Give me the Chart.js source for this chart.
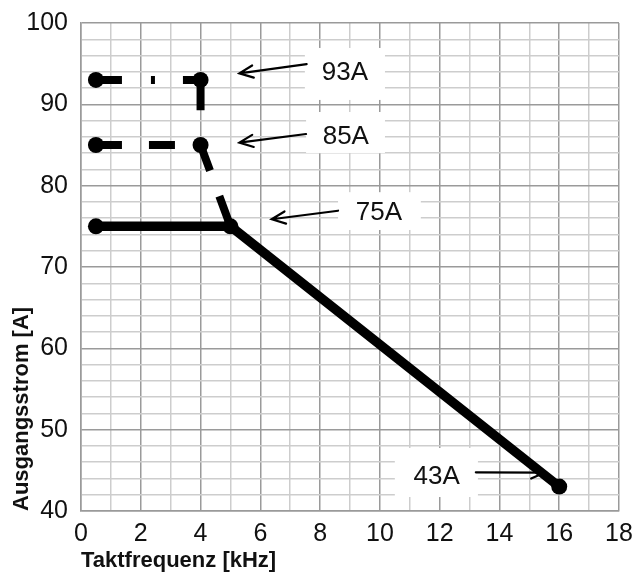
<!DOCTYPE html>
<html><head><meta charset="utf-8">
<script src="https://cdn.jsdelivr.net/npm/chart.js@4.4.0/dist/chart.umd.min.js"></script>
<style>html,body{margin:0;padding:0;background:#fff}#wrap{width:644px;height:577px}</style>
</head><body><div id="wrap"><canvas id="c" width="644" height="577"></canvas></div>
<script>
// ---- data ----
const freq75 = [0.5, 5, 16];
const amps75 = [75, 75, 43];
const freq85 = [0.5, 4, 5];
const amps85 = [85, 85, 75];
const freq93 = [0.5, 4, 4];
const amps93 = [93, 93, 85];
const xTickLabels = [0, 2, 4, 6, 8, 10, 12, 14, 16, 18];
const yTickLabels = [40, 50, 60, 70, 80, 90, 100];
const labelTexts = ['93A', '85A', '75A', '43A'];
const labelX = [8.83, 8.86, 9.97, 11.9];
const labelY = [93.85, 86.0, 76.6, 44.2];
const boxX0 = [7.49, 7.53, 8.6, 10.5];
const boxX1 = [10.17, 10.17, 11.37, 13.28];
const boxY0 = [90.54, 84.02, 74.55, 41.72];
const boxY1 = [96.93, 89.06, 79.2, 47.75];
const arrowFromX = [7.55, 7.53, 8.6, 13.21];
const arrowFromY = [94.94, 86.35, 76.92, 44.76];
const arrowToX = [5.30, 5.30, 6.38, 15.52];
const arrowToY = [93.8, 85.29, 75.87, 44.73];

const toXY = (xs, ys) => xs.map((x, i) => ({x: x, y: ys[i]}));
const FONT = '"Liberation Sans", Arial, sans-serif';
const MAJOR = '#9a9a9a', MINOR = '#cdcdcd';

const boxesPlugin = {
  id: 'boxes',
  beforeDatasetsDraw(chart) {
    const {ctx, scales: {x, y}} = chart;
    ctx.save();
    ctx.fillStyle = '#ffffff';
    for (let i = 0; i < labelTexts.length; i++) {
      const px0 = x.getPixelForValue(boxX0[i]), px1 = x.getPixelForValue(boxX1[i]);
      const py0 = y.getPixelForValue(boxY1[i]), py1 = y.getPixelForValue(boxY0[i]);
      ctx.fillRect(px0, py0, px1 - px0, py1 - py0);
    }
    ctx.strokeStyle = '#000';
    ctx.lineWidth = 2.2;
    ctx.lineCap = 'round';
    for (let i = 0; i < labelTexts.length; i++) {
      const fx = x.getPixelForValue(arrowFromX[i]), fy = y.getPixelForValue(arrowFromY[i]);
      const tx = x.getPixelForValue(arrowToX[i]), ty = y.getPixelForValue(arrowToY[i]);
      const ang = Math.atan2(ty - fy, tx - fx);
      const L = 15, a = 0.42;
      ctx.beginPath();
      ctx.moveTo(fx, fy); ctx.lineTo(tx, ty);
      ctx.moveTo(tx - L * Math.cos(ang - a), ty - L * Math.sin(ang - a));
      ctx.lineTo(tx, ty);
      ctx.lineTo(tx - L * Math.cos(ang + a), ty - L * Math.sin(ang + a));
      ctx.stroke();
    }
    ctx.fillStyle = '#111';
    ctx.font = '26px ' + FONT;
    ctx.textAlign = 'center';
    ctx.textBaseline = 'middle';
    for (let i = 0; i < labelTexts.length; i++) {
      ctx.fillText(labelTexts[i], x.getPixelForValue(labelX[i]), y.getPixelForValue(labelY[i]));
    }
    ctx.restore();
  }
};

new Chart(document.getElementById('c'), {
  type: 'scatter',
  data: {
    datasets: [
      {
        label: '93A',
        data: toXY(freq93, amps93),
        showLine: true,
        borderColor: '#000',
        borderWidth: 8,
        borderDash: [26, 29, 4, 28, 48, 300],
        borderJoinStyle: 'miter',
        pointRadius: [8, 8, 0],
        pointBackgroundColor: '#000',
        pointBorderWidth: 0
      },
      {
        label: '85A',
        data: toXY(freq85, amps85),
        showLine: true,
        borderColor: '#000',
        borderWidth: 8,
        borderDash: [26, 27],
        pointRadius: [8, 8, 0],
        pointBackgroundColor: '#000',
        pointBorderWidth: 0
      },
      {
        label: '75A',
        data: toXY(freq75, amps75),
        showLine: true,
        borderColor: '#000',
        borderWidth: 9.5,
        borderJoinStyle: 'round',
        pointRadius: 8,
        pointBackgroundColor: '#000',
        pointBorderWidth: 0
      }
    ]
  },
  options: {
    responsive: false,
    animation: false,
    devicePixelRatio: 1,
    layout: {padding: {top: 23, right: 25, left: 0, bottom: 0}},
    plugins: {legend: {display: false}, tooltip: {enabled: false}},
    scales: {
      x: {
        type: 'linear', min: 0, max: 18,
        afterFit: s => { s.height = 66; s.paddingLeft = 0; s.paddingRight = 0; },
        ticks: {
          stepSize: 1, autoSkip: false, maxRotation: 0, padding: 8,
          color: '#111', font: {family: FONT, size: 25},
          callback: v => xTickLabels.includes(v) ? String(v) : ''
        },
        grid: {
          drawTicks: false, lineWidth: 1.5,
          color: c => (c.tick && xTickLabels.includes(c.tick.value)) ? MAJOR : MINOR
        },
        border: {display: true, color: MAJOR, width: 1.5},
        title: {
          display: true, text: 'Taktfrequenz [kHz]', align: 'start', color: '#111',
          font: {family: FONT, size: 22, weight: 'bold'}, padding: {top: 0, bottom: 3}
        }
      },
      y: {
        type: 'linear', min: 40, max: 100,
        afterFit: s => { s.width = 81; s.paddingTop = 0; s.paddingBottom = 0; },
        ticks: {
          stepSize: 2, autoSkip: false, padding: 13,
          color: '#111', font: {family: FONT, size: 25},
          callback: v => yTickLabels.includes(v) ? String(v) : ''
        },
        grid: {
          drawTicks: false, lineWidth: 1.5,
          color: c => (c.tick && yTickLabels.includes(c.tick.value)) ? MAJOR : MINOR
        },
        border: {display: true, color: MAJOR, width: 1.5},
        title: {
          display: true, text: 'Ausgangsstrom [A]', align: 'start', color: '#111',
          font: {family: FONT, size: 22, weight: 'bold'}, padding: {top: 9, bottom: 0}
        }
      }
    }
  },
  plugins: [boxesPlugin]
});
</script>
</body></html>
